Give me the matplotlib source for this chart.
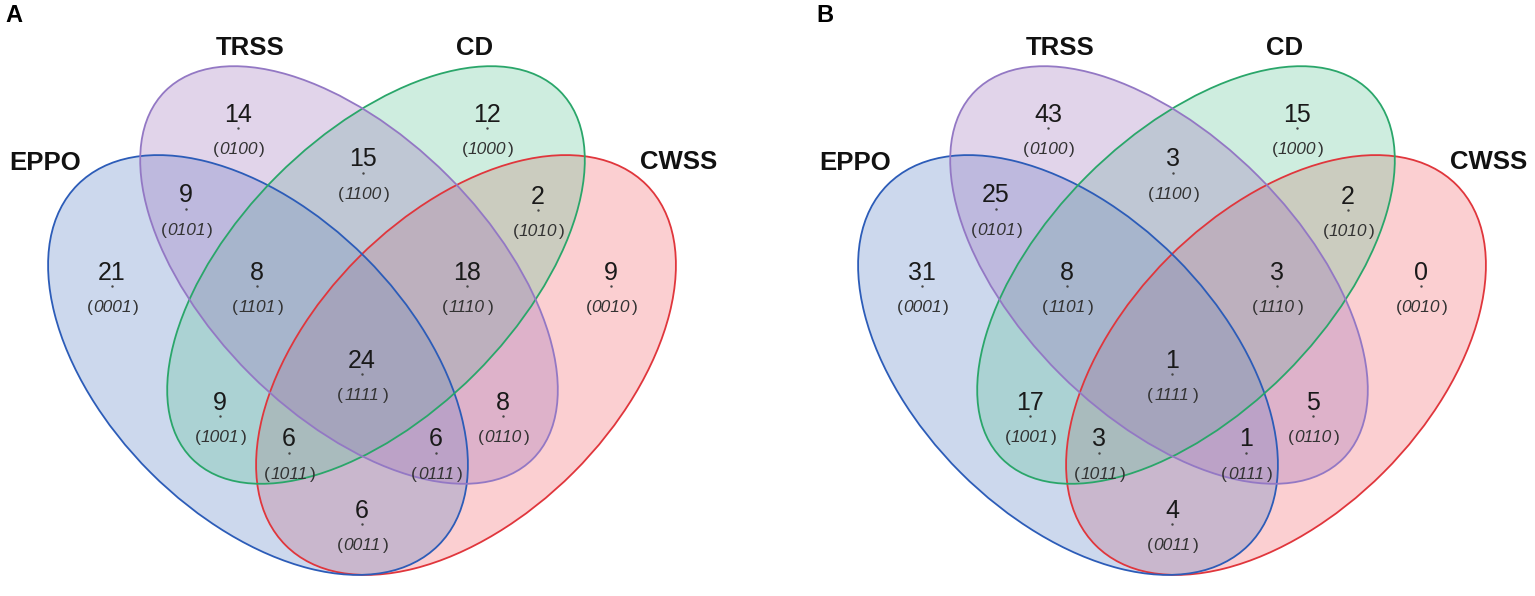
import matplotlib
matplotlib.use('Agg')
import matplotlib.pyplot as plt
from matplotlib.patches import Ellipse

plt.rcParams['font.family'] = ['Liberation Sans', 'DejaVu Sans']

# region codes (CD, TRSS, CWSS, EPPO) and counts for each panel
codes = ['0100', '1000', '1100', '0101', '1010', '0001', '1101', '1110',
         '0010', '1111', '1001', '0110', '1011', '0111', '0011']
counts_a = [14, 12, 15, 9, 2, 21, 8, 18, 9, 24, 9, 8, 6, 6, 6]
counts_b = [43, 15, 3, 25, 2, 31, 8, 3, 0, 1, 17, 5, 3, 1, 4]
panels = ['A', 'B']
sets = ['EPPO', 'TRSS', 'CD', 'CWSS']

# layout (pixels inside one panel)
label_pos = {
    '0100': (238, 112), '1000': (487, 112), '1100': (363, 157),
    '0101': (186, 193), '1010': (538, 194), '0001': (112, 270),
    '1101': (257, 270), '1110': (467, 270), '0010': (611, 270),
    '1111': (362, 358), '1001': (220, 400), '0110': (503, 400),
    '1011': (289, 437), '0111': (436, 437), '0011': (362, 508),
}
# center x, center y, width, height, angle, fill, edge
ellipses = {
    'EPPO': (258, 365, 510, 304, 45, '#5680c4', '#2c5cb8'),
    'TRSS': (349, 275, 520, 280, 45, '#9e72bc', '#9378c4'),
    'CD':   (376, 275, 520, 280, -45, '#5fc698', '#2aa66a'),
    'CWSS': (466, 365, 510, 304, -45, '#f26269', '#e0363c'),
}
fill_order = ['CWSS', 'EPPO', 'CD', 'TRSS']
set_label_pos = {'EPPO': (45, 163), 'TRSS': (250, 48), 'CD': (475, 48), 'CWSS': (679, 162)}
panel_letter_pos = [(14, 15), (825, 15)]
offsets = [0, 810]

fig = plt.figure(figsize=(15.35, 5.96), dpi=100)
ax = fig.add_axes([0, 0, 1, 1])
ax.set_xlim(0, 1535)
ax.set_ylim(596, 0)
ax.axis('off')

for panel, counts, dx, lp in zip(panels, [counts_a, counts_b], offsets, panel_letter_pos):
    for name in fill_order:
        cx, cy, w, h, ang, fc, ec = ellipses[name]
        ax.add_patch(Ellipse((cx + dx, cy), w, h, angle=ang, facecolor=fc,
                             edgecolor='none', alpha=0.3, zorder=1))
    for name in fill_order:
        cx, cy, w, h, ang, fc, ec = ellipses[name]
        ax.add_patch(Ellipse((cx + dx, cy), w, h, angle=ang, facecolor='none',
                             edgecolor=ec, lw=1.3, zorder=2))
    for code, n in zip(codes, counts):
        x, y = label_pos[code]
        x += dx
        ax.text(x, y + 9.5, str(n), fontsize=18, ha='center', va='baseline',
                color='#1a1a1a', zorder=3)
        ax.plot(x, y + 16, marker='.', ms=1.5, color='#444444', zorder=3)
        ax.text(x, y + 42, code, fontsize=12.5, fontstyle='italic', ha='center',
                va='baseline', color='#333333', zorder=3)
        ax.text(x - 19.5, y + 42, '(', fontsize=12.5, ha='right', va='baseline',
                color='#333333', zorder=3)
        ax.text(x + 20.5, y + 42, ')', fontsize=12.5, ha='left', va='baseline',
                color='#333333', zorder=3)
    for name in sets:
        x, y = set_label_pos[name]
        ax.text(x + dx, y, name, fontsize=18.5, fontweight='bold', ha='center',
                va='center', color='#111111', zorder=3)
    ax.text(lp[0], lp[1], panel, fontsize=17, fontweight='bold', ha='center',
            va='center', color='#000000')

fig.savefig('out.png', dpi=100)
